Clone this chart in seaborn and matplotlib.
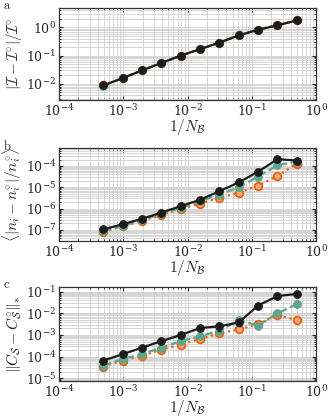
import numpy as np
import pandas as pd
import seaborn as sns
import matplotlib.pyplot as plt
from matplotlib.ticker import LogLocator

sns.set_style('ticks')
plt.rcParams['mathtext.fontset'] = 'cm'
plt.rcParams['font.family'] = ['DejaVu Serif']

# 1/N_B values (2^-11 ... 2^-1)
inv_nb = [2.0**-k for k in range(11, 0, -1)]

# panel a: relative error of I
a_black = [0.0088, 0.016, 0.030, 0.055, 0.10, 0.17, 0.29, 0.52, 0.83, 1.18, 1.77]
a_teal = [0.0087, 0.016, 0.030, 0.055, 0.10, 0.17, 0.29, 0.52, 0.83, 1.20, 1.80]
a_orange = [0.0088, 0.016, 0.030, 0.055, 0.10, 0.17, 0.29, 0.52, 0.84, 1.25, 1.82]

# panel b: mean relative error of n_i
b_black = [1.05e-7, 1.85e-7, 3.3e-7, 6.5e-7, 1.3e-6, 2.6e-6, 6.5e-6, 1.7e-5, 5.4e-5, 2.1e-4, 1.8e-4]
b_teal = [9.0e-8, 1.5e-7, 2.8e-7, 5.8e-7, 1.07e-6, 2.2e-6, 4.5e-6, 1.0e-5, 3.2e-5, 1.1e-4, 1.6e-4]
b_orange = [8.3e-8, 1.45e-7, 2.6e-7, 5.0e-7, 9.6e-7, 1.7e-6, 3.2e-6, 5.6e-6, 1.2e-5, 3.4e-5, 1.3e-4]

# panel c: nuclear norm error of C_S
c_black = [6.6e-5, 1.3e-4, 2.6e-4, 5.2e-4, 1.0e-3, 2.1e-3, 2.5e-3, 3.8e-3, 2.3e-2, 6.3e-2, 7.9e-2]
c_black_err = [0, 0, 0, 0, 0, 0, 1.0e-3, 1.2e-3, 5e-3, 0, 0]
c_teal = [3.9e-5, 7.8e-5, 1.3e-4, 2.6e-4, 5.2e-4, 8.7e-4, 1.6e-3, 4.8e-3, 2.7e-3, 1.0e-2, 2.7e-2]
c_orange = [3.5e-5, 6.6e-5, 1.1e-4, 2.1e-4, 3.6e-4, 6.6e-4, 1.2e-3, 1.8e-3, 3.2e-3, 8.4e-3, 4.8e-3]

black = '#1c1c1c'
teal = '#5ea58d'
orange = '#e8620f'

fig = plt.figure(figsize=(3.28, 4.18), dpi=100)
boxes = [[0.18, 0.761, 0.784, 0.220],
         [0.18, 0.4234, 0.784, 0.2225],
         [0.18, 0.0885, 0.784, 0.2256]]
ylabels = [r'$|\mathcal{I}-\mathcal{I}^{\circ}|/\mathcal{I}^{\circ}$',
           r'$\langle|n_i-n_i^{\circ}|/n_i^{\circ}\rangle$',
           r'$\|C_{\mathcal{S}}-C_{\mathcal{S}}^{\circ}\|_{*}$']
ylims = [(2.7e-3, 4.9), (3e-8, 7e-4), (7.5e-6, 0.17)]
panels = [(a_black, a_teal, a_orange), (b_black, b_teal, b_orange), (c_black, c_teal, c_orange)]
letters = ['a', 'b', 'c']

for i, (box, (yb, yt, yo)) in enumerate(zip(boxes, panels)):
    ax = fig.add_axes(box)
    df = pd.DataFrame({'x': inv_nb, 'black': yb, 'teal': yt, 'orange': yo})
    sns.lineplot(data=df, x='x', y='orange', ax=ax, color=orange, linestyle=':',
                 lw=1.6, marker='o', markersize=5.5, markerfacecolor='#f6a878',
                 markeredgecolor=orange, markeredgewidth=1.3, zorder=3)
    sns.lineplot(data=df, x='x', y='teal', ax=ax, color=teal, linestyle='--',
                 lw=1.6, dashes=(4, 1.5), marker='o', markersize=5.5,
                 markeredgecolor=teal, zorder=4)
    sns.lineplot(data=df, x='x', y='black', ax=ax, color=black, lw=1.6,
                 marker='o', markersize=5.5, markeredgecolor=black, zorder=5)
    if i == 2:
        ax.errorbar(inv_nb, yb, yerr=c_black_err, fmt='none', ecolor=black,
                    elinewidth=1, capsize=1.5, zorder=5)
    ax.set_xscale('log')
    ax.set_yscale('log')
    ax.set_xlim(1e-4, 1)
    ax.set_ylim(*ylims[i])
    ax.yaxis.set_major_locator(LogLocator(base=10, numticks=20))
    ax.yaxis.set_minor_locator(LogLocator(base=10, subs=np.arange(2, 10), numticks=20))
    ax.grid(True, which='both', color='#cfcfcf', lw=0.6)
    ax.set_axisbelow(True)
    ax.tick_params(which='both', direction='in', top=True, right=True, labelsize=9, pad=2)
    ax.tick_params(which='major', length=3)
    ax.tick_params(which='minor', length=1.5)
    for s in ax.spines.values():
        s.set_linewidth(0.9)
        s.set_color('#333333')
    ax.set_xlabel(r'$1/N_{\mathcal{B}}$', fontsize=11, labelpad=-1)
    ax.set_ylabel(ylabels[i], fontsize=11)
    ax.yaxis.set_label_coords(-0.135, 0.5)
    ax.text(0.008, box[1] + box[3] + 0.022, r'$\mathrm{' + letters[i] + '}$',
            transform=fig.transFigure, fontsize=9, va='top', ha='left')

fig.savefig('out.png', dpi=100)
